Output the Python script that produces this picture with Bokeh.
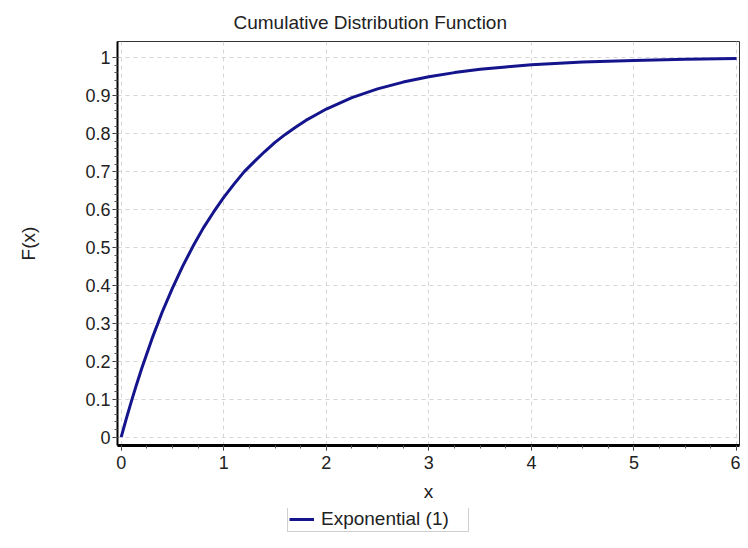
import numpy as np
from bokeh.plotting import figure
from bokeh.layouts import column
from bokeh.models import (Range1d, FixedTicker, CustomJSTickFormatter, Legend,
                          LegendItem)
from bokeh.embed import file_html
from bokeh.resources import INLINE

# ---- data ----
x_vals = [0, 0.05, 0.1, 0.15, 0.2, 0.3, 0.4, 0.5, 0.6, 0.7, 0.8, 0.9, 1.0,
          1.1, 1.2, 1.3, 1.4, 1.5, 1.6, 1.7, 1.8, 1.9, 2.0,
          2.25, 2.5, 2.75, 3.0, 3.25, 3.5, 3.75, 4.0, 4.5, 5.0, 5.5, 6.0]
y_vals = [0, 0.049, 0.095, 0.139, 0.181, 0.259, 0.33, 0.393, 0.451, 0.503, 0.551, 0.593, 0.632,
          0.667, 0.70, 0.727, 0.753, 0.777, 0.798, 0.817, 0.835, 0.85, 0.865,
          0.895, 0.918, 0.936, 0.95, 0.961, 0.97, 0.976, 0.982, 0.989, 0.993, 0.996, 0.998]
x_ticks = [0, 1, 2, 3, 4, 5, 6]
y_ticks = [0, 0.1, 0.2, 0.3, 0.4, 0.5, 0.6, 0.7, 0.8, 0.9, 1.0]
series_name = "Exponential (1)"
title_text = "Cumulative Distribution Function"
x_label = "x"
y_label = "F(x)"

FONT = "Liberation Sans"
TXT = "#222222"
LINE_COLOR = "#14148c"

p = figure(width=740, height=508, output_backend="svg", toolbar_location=None,
           x_range=Range1d(-0.036, 6.029), y_range=Range1d(-0.022, 1.043),
           min_border_left=117, min_border_right=1, min_border_top=41,
           min_border_bottom=63, background_fill_color="white",
           border_fill_color="white")

p.title.text = title_text
p.title.align = "left"
p.title.offset = 116
p.title.text_font = FONT
p.title.text_font_size = "19px"
p.title.text_font_style = "normal"
p.title.text_color = TXT
p.title.standoff = 17

p.outline_line_color = "#333333"
p.outline_line_width = 1

# axes
xa = p.xaxis[0]
ya = p.yaxis[0]
xa.ticker = FixedTicker(ticks=x_ticks, minor_ticks=list(np.arange(0, 6.001, 0.25)))
ya.ticker = FixedTicker(ticks=y_ticks, minor_ticks=list(np.round(np.arange(0, 1.0001, 0.02), 2)))
ya.formatter = CustomJSTickFormatter(code="return String(+tick.toFixed(2));")
xa.formatter = CustomJSTickFormatter(code="return String(+tick.toFixed(2));")

for ax in (xa, ya):
    ax.axis_line_color = "black"
    ax.major_tick_line_color = "#333333"
    ax.minor_tick_line_color = "#555555"
    ax.major_tick_in = 0
    ax.minor_tick_in = 0
    ax.major_tick_out = 5
    ax.minor_tick_out = 3
    ax.major_label_text_font = FONT
    ax.major_label_text_font_size = "18px"
    ax.major_label_text_color = TXT
    ax.axis_label_text_font = FONT
    ax.axis_label_text_font_size = "19px"
    ax.axis_label_text_font_style = "normal"
    ax.axis_label_text_color = TXT

xa.axis_line_width = 3
ya.axis_line_width = 2
xa.axis_label = x_label
ya.axis_label = y_label
xa.major_label_standoff = 5
ya.major_label_standoff = 2
xa.axis_label_standoff = 9
ya.axis_label_standoff = 43

# grid
for g in (p.xgrid[0], p.ygrid[0]):
    g.grid_line_color = "#d6d6d6"
    g.grid_line_dash = "4 4"
    g.grid_line_width = 1
p.xgrid[0].ticker = xa.ticker
p.ygrid[0].ticker = ya.ticker

p.line(x_vals, y_vals, line_color=LINE_COLOR, line_width=3)

# legend strip below the chart (its frame is aligned with the chart frame)
lg = figure(width=740, height=24, output_backend="svg", toolbar_location=None,
            x_range=Range1d(0, 1), y_range=Range1d(0, 1),
            x_axis_type=None, y_axis_type=None, min_border=0,
            background_fill_color="white", border_fill_color="white")
lg.outline_line_color = None
lg.xgrid.visible = False
lg.ygrid.visible = False
# legend key renderer: its points lie outside the visible range
key = lg.line(x=[-5, -4], y=[-5, -5], line_color=LINE_COLOR, line_width=3)

legend = Legend(items=[LegendItem(label=series_name, renderers=[key])],
                location=(170, 0), orientation="horizontal",
                label_text_font=FONT, label_text_font_size="19px",
                label_text_color=TXT, glyph_width=25, glyph_height=18,
                label_height=18, label_standoff=7, label_width=146,
                padding=1, margin=0, spacing=0,
                border_line_color="#a0a0a0", border_line_width=1,
                background_fill_color="white", background_fill_alpha=1)
lg.add_layout(legend, "center")

layout = column(p, lg, spacing=0)
open("out.html", "w").write(file_html(layout, INLINE))
